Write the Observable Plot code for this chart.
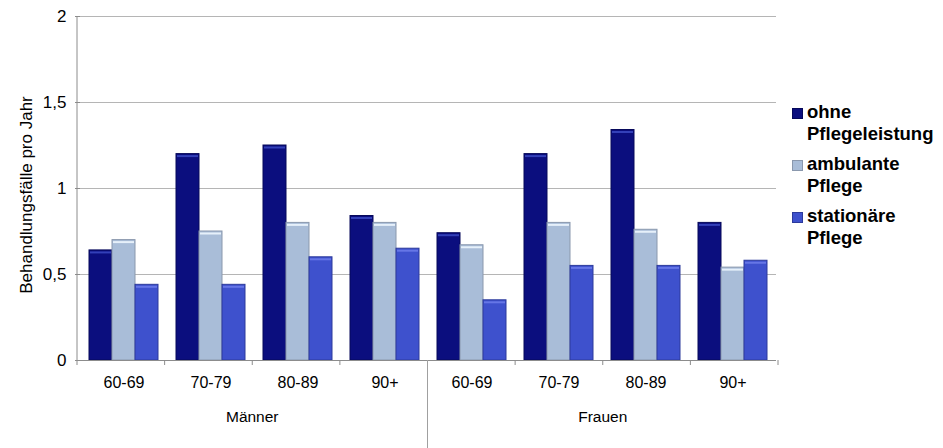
<!DOCTYPE html>
<html><head><meta charset="utf-8">
<script src="https://cdn.jsdelivr.net/npm/d3@7"></script>
<script src="https://cdn.jsdelivr.net/npm/@observablehq/plot@0.6"></script>
<style>
body{margin:0;background:#fff;font-family:"Liberation Sans",Arial,sans-serif;}
#wrap{position:relative;width:943px;height:448px;overflow:hidden;}
#legend{position:absolute;left:792px;top:101px;font-weight:bold;font-size:18.5px;line-height:22px;color:#000;}
.item{position:relative;padding-left:15px;margin-bottom:8px;white-space:nowrap;}
.sw{position:absolute;left:0;top:7px;width:11px;height:11px;box-sizing:border-box;}
</style></head><body><div id="wrap"><div id="legend"></div></div>
<script>
// ---- data ----
const groups = ["Männer", "Frauen"];
const ages = ["60-69", "70-79", "80-89", "90+"];
const series = ["ohne Pflegeleistung", "ambulante Pflege", "stationäre Pflege"];
const legendLines = [["ohne", "Pflegeleistung"], ["ambulante", "Pflege"], ["stationäre", "Pflege"]];
const ohne       = [0.64, 1.20, 1.25, 0.84,  0.74, 1.20, 1.34, 0.80];
const ambulant   = [0.70, 0.75, 0.80, 0.80,  0.67, 0.80, 0.76, 0.54];
const stationaer = [0.44, 0.44, 0.60, 0.65,  0.35, 0.55, 0.55, 0.58];
const yTicks = [0, 0.5, 1, 1.5, 2];
const yLabel = "Behandlungsfälle pro Jahr";

// ---- styles ----
const fills   = ["#0b0e7e", "#a9bdd8", "#3e51cd"];
const strokes = ["#06085a", "#8a98ad", "#2c3a9c"];
const tops    = ["#3340b8", "#e6f0fa", "#6676e6"];
const FONT = "Liberation Sans, Arial, sans-serif";

const keys = groups.flatMap(g => ages.map(a => g + "|" + a));
const values = [ohne, ambulant, stationaer];
const data = [];
keys.forEach((k, i) => series.forEach((s, j) => data.push({key: k, series: s, si: j, value: values[j][i]})));

const W = 943, H = 448, mL = 77, mR = 165, mT = 16, mB = 88;
const chart = Plot.plot({
  width: W, height: H,
  marginLeft: mL, marginRight: mR, marginTop: mT, marginBottom: mB,
  style: {fontFamily: FONT, fontSize: "16px", color: "#000", background: "#fff", overflow: "visible"},
  facet: {data, x: "key", marginLeft: 0, marginRight: 0},
  fx: {domain: keys, padding: 0, axis: "bottom", tickSize: 0, tickPadding: 16, tickFormat: k => k.split("|")[1], label: null},
  x: {domain: series, paddingInner: 0, paddingOuter: 0.37, axis: null},
  y: {domain: [0, 2], ticks: yTicks, tickFormat: d => String(d).replace(".", ","), tickSize: 5, tickPadding: 9, label: null},
  marks: [
    Plot.ruleY(yTicks.slice(1), {stroke: "#b5b5b5", strokeWidth: 1}),
    ...series.map((s, j) => Plot.barY(data, {filter: d => d.si === j, x: "series", y: "value", fill: fills[j], stroke: strokes[j], strokeWidth: 1})),
    ...series.map((s, j) => Plot.tickY(data, {filter: d => d.si === j, x: "series", y: "value", stroke: tops[j], strokeWidth: 2, dy: 2, inset: 1})),
    Plot.ruleY([0], {stroke: "#8c8c8c"})
  ]
});
chart.style.position = "absolute";
chart.style.left = "0px";
chart.style.top = "0px";
document.getElementById("wrap").prepend(chart);

const svg = d3.select(chart);
svg.selectAll('g[aria-label^="y-axis"] line, g[aria-label^="y-axis"] path').attr("stroke", "#8c8c8c");
svg.selectAll('g[aria-label^="y-axis"] text, g[aria-label^="y-axis"]').attr("font-size", 17);

// extras drawn from the scales
const fxs = chart.scale("fx");
const ys = chart.scale("y");
const [r0, r1] = fxs.range;
const step = (r1 - r0) / keys.length;
const y0 = ys.range[0];
const yTop = ys.range[1];
svg.append("line").attr("x1", mL).attr("x2", mL).attr("y1", yTop).attr("y2", y0).attr("stroke", "#8c8c8c");
const bounds = d3.range(keys.length + 1).map(i => r0 + i * step);
svg.append("g").selectAll("line").data(bounds).join("line")
  .attr("x1", d => d).attr("x2", d => d).attr("y1", y0).attr("y2", y0 + 5).attr("stroke", "#8c8c8c");
groups.slice(1).forEach((g, gi) => {
  const x = r0 + (gi + 1) * ages.length * step;
  svg.append("line").attr("x1", x).attr("x2", x).attr("y1", y0).attr("y2", H).attr("stroke", "#a0a0a0");
});
groups.forEach((g, gi) => {
  const cx = r0 + (gi * ages.length + ages.length / 2) * step;
  svg.append("text").attr("x", cx).attr("y", 422).attr("text-anchor", "middle")
    .attr("font-family", FONT).attr("font-size", 15.5).attr("fill", "#000").text(g);
});
// y-axis title
svg.append("text").attr("transform", `translate(32,${(yTop + y0) / 2 + 7}) rotate(-90)`)
  .attr("text-anchor", "middle").attr("font-family", FONT).attr("font-size", 17).attr("fill", "#000").text(yLabel);

const lg = d3.select("#legend");
legendLines.forEach((lines, j) => {
  const it = lg.append("div").attr("class", "item");
  it.append("div").attr("class", "sw").style("background", fills[j]).style("border", "1px solid " + strokes[j]);
  it.append("div").html(lines.join("<br>"));
});
</script>
</body></html>
